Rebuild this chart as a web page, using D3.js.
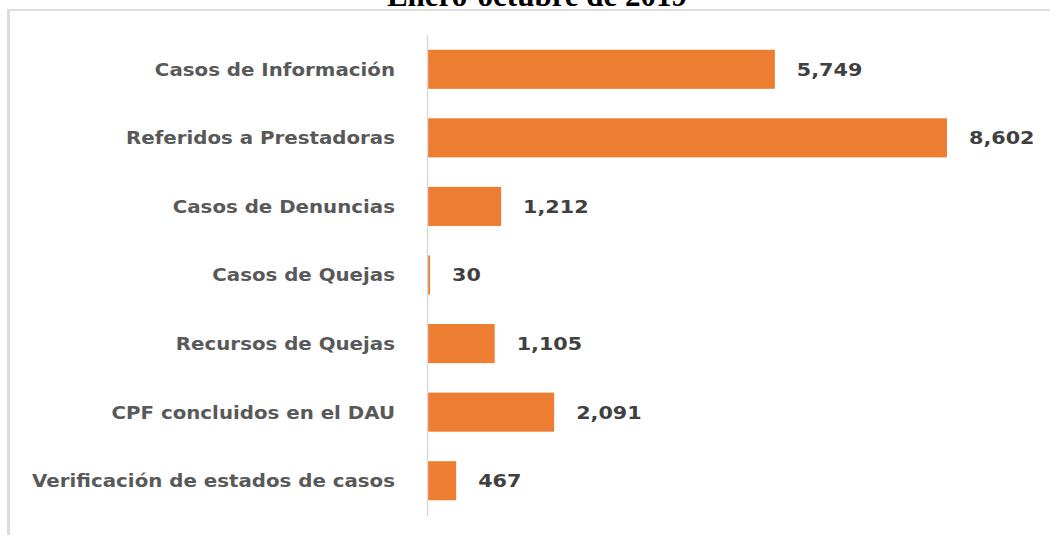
<!DOCTYPE html>
<html>
<head>
<meta charset="utf-8">
<script src="https://cdn.jsdelivr.net/npm/d3@7"></script>
<style>
  body { margin: 0; background: #fff; }
  svg { display: block; }
</style>
</head>
<body>
<svg id="chart" width="1050" height="535"></svg>
<script>
var categories = ["Casos de Información", "Referidos a Prestadoras", "Casos de Denuncias",
    "Casos de Quejas", "Recursos de Quejas", "CPF concluidos en el DAU",
    "Verificación de estados de casos"];
var values = [5749, 8602, 1212, 30, 1105, 2091, 467];
var title = "Enero-octubre de 2019";

var svg = d3.select("#chart");

// frame (left + top edges of the pasted chart box)
svg.append("rect").attr("x", 7).attr("y", 9).attr("width", 1050).attr("height", 2).attr("fill", "#dedede");
svg.append("rect").attr("x", 7).attr("y", 9).attr("width", 3).attr("height", 526).attr("fill", "#dcdcdc");

// title, cut off at the top like the original
svg.append("text")
    .attr("x", 537).attr("y", 6)
    .attr("text-anchor", "middle")
    .attr("font-family", "Liberation Serif, serif")
    .attr("font-weight", "bold")
    .attr("font-size", 31)
    .attr("fill", "#000")
    .text(title);

var x = d3.scaleLinear().domain([0, 9000]).range([428, 971]);
var y = d3.scaleBand().domain(categories).range([35, 515]).paddingInner(0.43).paddingOuter(0.215);

svg.selectAll(".bar")
    .data(values)
    .enter().append("rect")
    .attr("class", "bar")
    .attr("x", x(0))
    .attr("y", (d, i) => y(categories[i]))
    .attr("width", d => Math.max(x(d) - x(0), 2))
    .attr("height", y.bandwidth())
    .attr("fill", "#ed7d31");

// axis line
svg.append("line")
    .attr("x1", 427.5).attr("x2", 427.5)
    .attr("y1", 35).attr("y2", 516)
    .attr("stroke", "#d9d9d9").attr("stroke-width", 1.5);

// the original's labels look stretched sideways, so widen them a bit
function stretch(sel, k) {
    sel.each(function() {
        var len = this.getComputedTextLength();
        d3.select(this).attr("textLength", len * k).attr("lengthAdjust", "spacingAndGlyphs");
    });
}

svg.selectAll(".cat")
    .data(categories)
    .enter().append("text")
    .attr("class", "cat")
    .attr("x", 395)
    .attr("y", d => y(d) + y.bandwidth() / 2)
    .attr("dy", "0.36em")
    .attr("text-anchor", "end")
    .attr("font-family", "DejaVu Sans, sans-serif")
    .attr("font-weight", "bold")
    .attr("font-size", 18)
    .attr("fill", "#595959")
    .text(d => d)
    .call(stretch, 1.1);

svg.selectAll(".val")
    .data(values)
    .enter().append("text")
    .attr("class", "val")
    .attr("x", d => Math.max(x(d), x(0) + 2) + 22)
    .attr("y", (d, i) => y(categories[i]) + y.bandwidth() / 2)
    .attr("dy", "0.36em")
    .attr("font-family", "DejaVu Sans, sans-serif")
    .attr("font-weight", "bold")
    .attr("font-size", 18)
    .attr("fill", "#404040")
    .text(d => d3.format(",")(d))
    .call(stretch, 1.15);
</script>
</body>
</html>
